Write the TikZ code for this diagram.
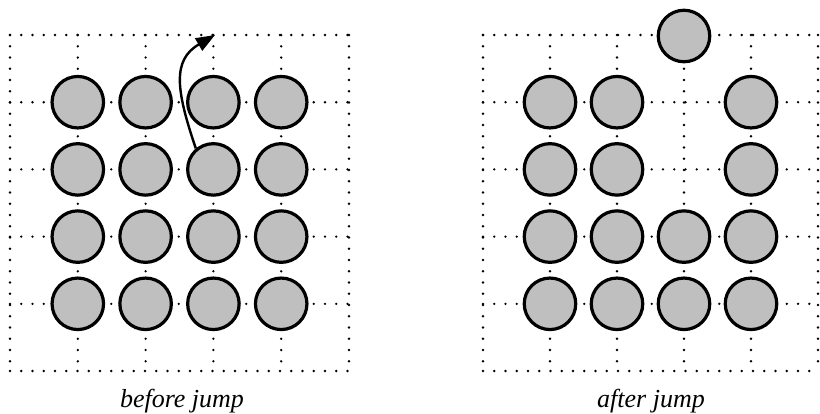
\documentclass[tikz,border=0pt]{standalone}
\usepackage{fontspec}
\setmainfont{Liberation Serif}
\usetikzlibrary{arrows.meta}
\tikzset{
  dotline/.style={line width=2.6pt, line cap=round, dash pattern=on 0pt off 11.25pt},
  ball/.style={circle, draw=black, line width=3.2pt, fill=gray!50!white, minimum size=51.5pt, inner sep=0pt},
  lbl/.style={font=\itshape\fontsize{26}{30}\selectfont, anchor=base},
  jump/.style={line width=2.4pt, -{Triangle[length=19pt,width=14pt]}}
}
\begin{document}
\begin{tikzpicture}[x=1pt,y=-1pt]
\useasboundingbox (0,0) rectangle (820,413);
\def\lx{10}\def\rx{483}\def\ty{35}
\foreach \i in {0,...,5}{
  \draw[dotline] (\lx+\i*67.8,\ty) -- (\lx+\i*67.8,\ty+336);
  \draw[dotline] (\lx,\ty+\i*67.2) -- (\lx+339,\ty+\i*67.2);
  \draw[dotline] (\rx+\i*67,\ty) -- (\rx+\i*67,\ty+336);
  \draw[dotline] (\rx,\ty+\i*67.2) -- (\rx+335,\ty+\i*67.2);
}
% left balls
\foreach \r in {1,...,4}{
  \foreach \c in {1,...,4}{
    \node[ball] (L\r\c) at (\lx+\c*67.8,\ty+\r*67.2) {};
  }
}
% right balls
\foreach \r/\c in {1/1,1/2,1/4,2/1,2/2,2/4,3/1,3/2,3/3,3/4,4/1,4/2,4/3,4/4}{
  \node[ball] (R\r\c) at (\rx+\c*67,\ty+\r*67.2) {};
}
\node[ball] (Rtop) at (\rx+3*67,\ty+1) {};
% arrow
\coordinate (tip) at (215,35);
\draw[jump] (L23.130) .. controls (176,90) and (172,60) .. (tip);
% labels
\node[lbl] (lab1) at (182,407) {before jump};
\node[lbl] (lab2) at (651,407) {after jump};
\end{tikzpicture}
\end{document}
